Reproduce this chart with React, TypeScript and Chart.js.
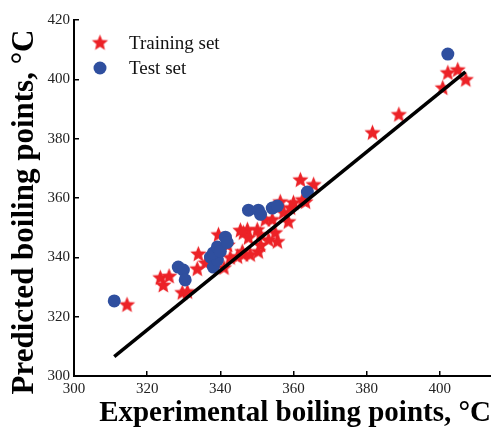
import React, { useEffect, useRef } from "react";
import { Chart, registerables } from "chart.js";

Chart.register(...registerables);

const trainingX = [314.5, 323.6, 324.4, 329.6, 331.0, 326.0, 334.0, 333.7, 339.5, 336.0, 341.0, 345.5, 346.3, 347.4, 350.1, 351.0, 352.3, 354.2, 355.0, 355.6, 356.4, 357.3, 358.6, 359.2, 360.0, 362.5, 363.3, 361.9, 365.5, 381.6, 388.8, 400.8, 402.2, 404.9, 407.1, 346.3, 347.7, 351.0, 353.2, 350.4, 348.2, 346.0, 342.7, 344.7, 342.0];
const trainingY = [323.9, 333.0, 330.5, 328.0, 328.3, 333.5, 341.0, 336.0, 347.5, 338.0, 336.4, 349.0, 340.8, 349.2, 349.2, 344.0, 352.6, 352.6, 348.2, 345.2, 358.6, 355.0, 351.9, 356.6, 358.3, 359.3, 358.6, 366.0, 364.4, 381.9, 388.0, 397.0, 402.1, 403.1, 399.8, 348.2, 346.5, 347.5, 345.8, 341.8, 340.8, 341.8, 339.8, 340.1, 344.0];

const testX = [311.0, 328.5, 329.9, 330.4, 337.3, 338.1, 339.2, 338.1, 339.2, 341.4, 340.0, 341.9, 347.7, 350.4, 351.0, 354.2, 355.6, 363.8, 402.2];
const testY = [325.3, 336.7, 335.7, 332.4, 340.1, 336.7, 339.1, 341.5, 343.5, 346.8, 342.0, 345.0, 355.9, 355.9, 354.5, 356.6, 357.3, 362.0, 408.5];

const fitX = [311.0, 407.0];
const fitY = [306.5, 402.5];

const xTicks = [300, 320, 340, 360, 380, 400];
const yTicks = [300, 320, 340, 360, 380, 400, 420];

const xTitle = "Experimental boiling points, °C";
const yTitle = "Predicted boiling points, °C";
const legendLabels = ["Training set", "Test set"];

const RED = "#ec2227";
const BLUE = "#2f4f9f";

function makeStar(r: number, color: string): HTMLCanvasElement {
  const c = document.createElement("canvas");
  const size = Math.ceil(r * 2 + 2);
  c.width = size;
  c.height = size;
  const ctx = c.getContext("2d")!;
  const cx = size / 2;
  const cy = size / 2;
  const inner = r * 0.45;
  ctx.beginPath();
  for (let i = 0; i < 10; i++) {
    const rad = i % 2 === 0 ? r : inner;
    const a = -Math.PI / 2 + (i * Math.PI) / 5;
    const px = cx + rad * Math.cos(a);
    const py = cy + rad * Math.sin(a);
    if (i === 0) ctx.moveTo(px, py);
    else ctx.lineTo(px, py);
  }
  ctx.closePath();
  ctx.fillStyle = color;
  ctx.fill();
  return c;
}

export default function App() {
  const ref = useRef<HTMLCanvasElement | null>(null);

  useEffect(() => {
    document.body.style.margin = "0";
    const star = makeStar(8.5, RED);
    const decorPlugin = {
      id: "decor",
      afterDraw(chart: any) {
        const ctx = chart.ctx;
        ctx.save();
        ctx.drawImage(star, 100 - star.width / 2, 43 - star.height / 2);
        ctx.beginPath();
        ctx.arc(100, 68, 6.5, 0, Math.PI * 2);
        ctx.fillStyle = BLUE;
        ctx.fill();
        ctx.fillStyle = "#111";
        ctx.font = "19px 'Liberation Serif'";
        ctx.textBaseline = "middle";
        ctx.textAlign = "left";
        ctx.fillText(legendLabels[0], 129, 44);
        ctx.fillText(legendLabels[1], 129, 69);
        // y axis title
        ctx.translate(25, 212);
        ctx.rotate(-Math.PI / 2);
        ctx.textAlign = "center";
        ctx.textBaseline = "middle";
        ctx.fillStyle = "#000";
        ctx.font = "bold 31px 'Liberation Serif'";
        ctx.fillText(yTitle, 0, 0);
        ctx.restore();
      },
    };

    const chart = new Chart(ref.current!, {
      type: "scatter",
      data: {
        datasets: [
          {
            type: "line",
            label: "Fit",
            data: fitX.map((x, i) => ({ x, y: fitY[i] })),
            borderColor: "#000",
            borderWidth: 3.5,
            pointRadius: 0,
            showLine: true,
            fill: false,
          } as any,
          {
            label: legendLabels[1],
            data: testX.map((x, i) => ({ x, y: testY[i] })),
            backgroundColor: BLUE,
            borderColor: BLUE,
            pointRadius: 6.5,
            pointStyle: "circle",
            borderWidth: 0,
          },
          {
            label: legendLabels[0],
            data: trainingX.map((x, i) => ({ x, y: trainingY[i] })),
            pointStyle: star as any,
            pointRadius: 8.5,
          },
        ],
      },
      options: {
        animation: false,
        responsive: false,
        layout: { autoPadding: false, padding: { top: 20, right: 0, left: 0, bottom: 0 } },
        plugins: { legend: { display: false }, tooltip: { enabled: false } },
        scales: {
          x: {
            type: "linear",
            min: 300,
            max: 414,
            afterBuildTicks: (s: any) => {
              s.ticks = xTicks.map((v) => ({ value: v }));
            },
            afterFit: (s: any) => {
              s.height = 57;
              s.paddingLeft = 0;
              s.paddingRight = 0;
            },
            border: { display: true, color: "#000", width: 2 },
            grid: { drawOnChartArea: false, drawTicks: true, tickLength: -5, color: "#000", lineWidth: 1.5 },
            ticks: { font: { family: "'Liberation Serif'", size: 15 }, color: "#222", padding: 9, maxRotation: 0, autoSkip: false },
            title: {
              display: true,
              text: xTitle,
              align: "end",
              font: { family: "'Liberation Serif'", size: 29, weight: "bold" },
              color: "#000",
              padding: { top: 0, bottom: 2 },
            },
          },
          y: {
            type: "linear",
            min: 300,
            max: 420,
            afterBuildTicks: (s: any) => {
              s.ticks = yTicks.map((v) => ({ value: v }));
            },
            afterFit: (s: any) => {
              s.width = 74;
              s.paddingTop = 0;
              s.paddingBottom = 0;
            },
            border: { display: true, color: "#000", width: 2 },
            grid: { drawOnChartArea: false, drawTicks: true, tickLength: -5, color: "#000", lineWidth: 1.5 },
            ticks: { font: { family: "'Liberation Serif'", size: 15 }, color: "#222", padding: 9, autoSkip: false },
          },
        },
      },
      plugins: [decorPlugin],
    });
    return () => chart.destroy();
  }, []);

  return (
    <div style={{ width: 491, height: 433 }}>
      <canvas ref={ref} width={491} height={433} style={{ display: "block" }} />
    </div>
  );
}
